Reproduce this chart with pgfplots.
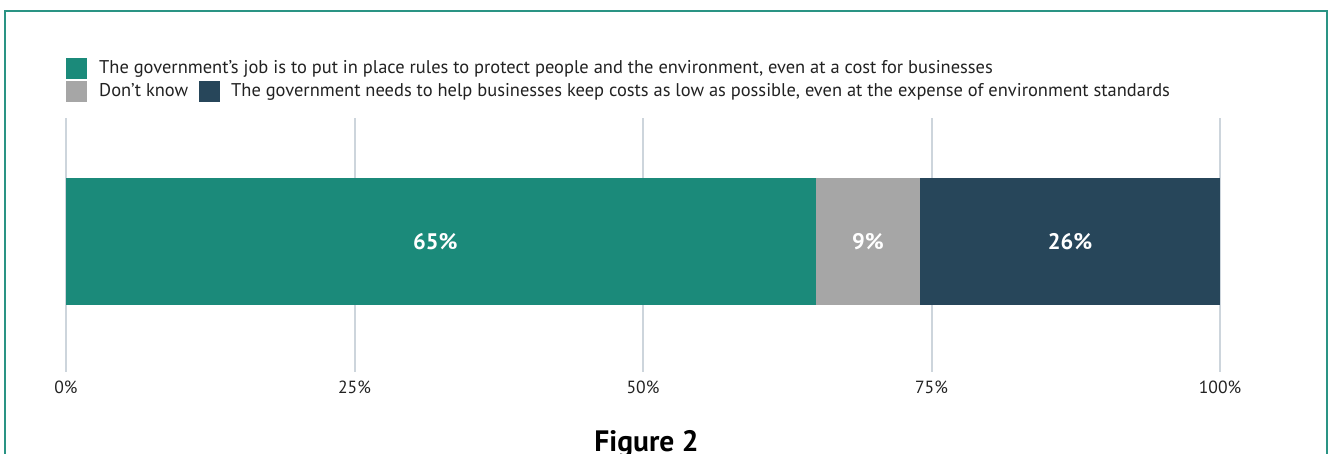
\documentclass[border=0pt]{standalone}
\usepackage{pgfplots}
\pgfplotsset{compat=1.18}
\usepackage{fontspec}
\setmainfont{PT Sans}
\definecolor{cteal}{HTML}{1B8A7A}
\definecolor{cgray}{HTML}{A6A6A6}
\definecolor{cdark}{HTML}{27465A}
\definecolor{frame}{HTML}{2A9484}
\definecolor{gridc}{HTML}{CDD5DC}
\definecolor{txt}{HTML}{222222}
\pgfplotsset{
  common/.style={
    at={(66bp,82bp)}, anchor=south west,
    scale only axis, width=1154bp, height=254bp,
    xmin=0, xmax=100, ymin=-1, ymax=0.946,
    axis line style={draw=none},
  }
}
\begin{document}
\begin{tikzpicture}[x=1bp,y=1bp]
\path[use as bounding box] (0,0) rectangle (1333,454);
\draw[frame, line width=2.5bp] (5,443) rectangle (1327,-20);
\begin{axis}[
  common,
  xbar stacked, bar width=127bp,
  ytick=\empty,
  xtick={0,25,50,75,100},
  xticklabel={\pgfmathprintnumber{\tick}\%},
  /pgf/number format/assume math mode=true,
  xmajorgrids, grid style={gridc, line width=2bp},
  major tick length=0pt,
  tick label style={font=\fontsize{17.6bp}{19bp}\selectfont, text=txt},
  xticklabel style={yshift=-5bp},
]
\addplot[fill=cteal, draw=none] coordinates {(65,0)};
\addplot[fill=cgray, draw=none] coordinates {(9,0)};
\addplot[fill=cdark, draw=none] coordinates {(26,0)};
\end{axis}
\begin{axis}[
  common, hide axis,
  nodes near coords, point meta=explicit symbolic,
  every node near coord/.style={anchor=center, text=white, font=\fontsize{22.5bp}{24bp}\selectfont\bfseries},
]
\addplot[draw=none, mark=none] coordinates {(32.0,0) [65\%] (69.5,0) [9\%] (87,0) [26\%]};
\end{axis}
% legend
\fill[cteal] (66,375) rectangle (87,396);
\fill[cgray] (66,352) rectangle (87,373);
\fill[cdark] (199,352) rectangle (220,373);
\node[anchor=base west, inner sep=0, text=txt, font=\fontsize{18.45bp}{20bp}\selectfont] at (99,380) {The government’s job is to put in place rules to protect people and the environment, even at a cost for businesses};
\node[anchor=base west, inner sep=0, text=txt, font=\fontsize{18.45bp}{20bp}\selectfont] at (99,357.3) {Don’t know};
\node[anchor=base west, inner sep=0, text=txt, font=\fontsize{18.45bp}{20bp}\selectfont] at (231,357.3) {The government needs to help businesses keep costs as low as possible, even at the expense of environment standards};
\node[anchor=base, inner sep=0, text=black, font=\fontsize{29.5bp}{31bp}\selectfont\bfseries] at (646.5,2.4) {Figure 2};
\end{tikzpicture}
\end{document}
